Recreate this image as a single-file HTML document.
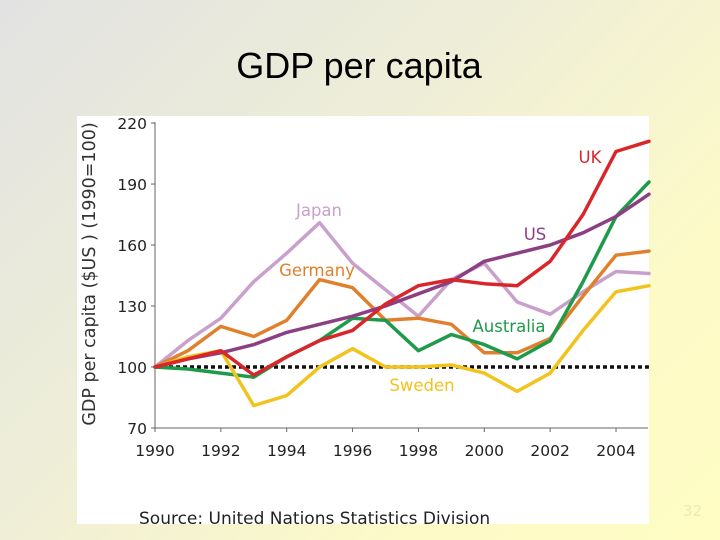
<!DOCTYPE html>
<html><head><meta charset="utf-8"><style>
html,body{margin:0;padding:0}
body{width:720px;height:540px;overflow:hidden;background:linear-gradient(135deg,#e2e2e2 0%,#eeeed8 40%,#fdfac8 75%,#fffcc4 100%);font-family:"DejaVu Sans","Liberation Sans",sans-serif;position:relative}
#title{position:absolute;left:0;width:718px;top:45px;text-align:center;font-family:"Liberation Sans",sans-serif;font-size:36px;color:#000}
#num{position:absolute;left:683px;top:502px;font-size:15px;color:#eeeab0}
svg{position:absolute;left:0;top:0}
</style></head><body>
<div id="title">GDP per capita</div>
<div id="num">32</div>
<svg id="chart" width="720" height="540"></svg>
<script>
const years=[1990,1991,1992,1993,1994,1995,1996,1997,1998,1999,2000,2001,2002,2003,2004,2005];
const xTicks=[1990,1992,1994,1996,1998,2000,2002,2004];
const yTicks=[70,100,130,160,190,220];
const japan=[100,113,124,142,156,171,151,138,125,143,151,132,126,137,147,146];
const germany=[100,108,120,115,123,143,139,123,124,121,107,107,114,135,155,157];
const us=[100,104,107,111,117,121,125,130,136,142,152,156,160,166,174,185];
const uk=[100,104,108,96,105,113,118,131,140,143,141,140,152,175,206,211];
const australia=[100,99,97,95,105,113,124,123,108,116,111,104,113,142,174,191];
const sweden=[100,105,108,81,86,100,109,100,100,101,97,88,97,118,137,140];
const series=[
 {name:'japan',vals:japan,color:'#c9a0cc',label:'Japan',lx:319,ly:216},
 {name:'germany',vals:germany,color:'#e0802c',label:'Germany',lx:317,ly:276},
 {name:'australia',vals:australia,color:'#1e9a4a',label:'Australia',lx:509,ly:332},
 {name:'sweden',vals:sweden,color:'#f2c31c',label:'Sweden',lx:422,ly:391},
 {name:'us',vals:us,color:'#8c3f82',label:'US',lx:535,ly:240},
 {name:'uk',vals:uk,color:'#d8262a',label:'UK',lx:590,ly:163}
];
const NS='http://www.w3.org/2000/svg';
const svg=document.getElementById('chart');
const x=y=>155+(y-1990)*32.93;
const yv=v=>428-(v-70)*2.033;
function mk(t,a,p){const e=document.createElementNS(NS,t);for(const k in a)e.setAttribute(k,a[k]);(p||svg).appendChild(e);return e;}
const bg=mk('rect',{x:77,y:116,width:572,height:408,fill:'#fff'});


const ya=mk('line',{x1:155,y1:122,x2:155,y2:428,stroke:'#666','stroke-width':1});


const xa=mk('line',{x1:155,y1:428,x2:648,y2:428,stroke:'#666','stroke-width':1});


yTicks.forEach(v=>{
 mk('line',{x1:151,x2:155,y1:yv(v),y2:yv(v),stroke:'#666'});
 const t=mk('text',{x:147,y:yv(v)+6,'text-anchor':'end','font-size':15.5,fill:'#222'});
 t.textContent=v;
 
 
});
xTicks.forEach(v=>{
 mk('line',{x1:x(v),x2:x(v),y1:428,y2:432,stroke:'#666'});
 const t=mk('text',{x:x(v),y:456,'text-anchor':'middle','font-size':15.5,fill:'#222'});
 t.textContent=v;
 
 
});
const yl=mk('text',{x:0,y:0,transform:'translate(95,274) rotate(-90)','text-anchor':'middle','font-size':17.5,fill:'#333'});
yl.textContent='GDP per capita ($US ) (1990=100)';


const base=mk('line',{x1:x(1990),x2:x(2005),y1:yv(100),y2:yv(100),stroke:'#111','stroke-width':3.5,'stroke-dasharray':'4,3'});


series.forEach(s=>{
 const pts=s.vals.map((v,i)=>x(years[i]).toFixed(1)+','+yv(v).toFixed(1)).join(' ');
 const p=mk('polyline',{points:pts,fill:'none',stroke:s.color,'stroke-width':3.5,'stroke-linejoin':'round','stroke-linecap':'round'});
 
 
 const t=mk('text',{x:s.lx,y:s.ly,'text-anchor':'middle','font-size':16.5,fill:s.color});
 t.textContent=s.label;
 
 
});
const src=mk('text',{x:139,y:524,'font-size':17,fill:'#222'});
src.textContent='Source: United Nations Statistics Division';


</script>
</body></html>
